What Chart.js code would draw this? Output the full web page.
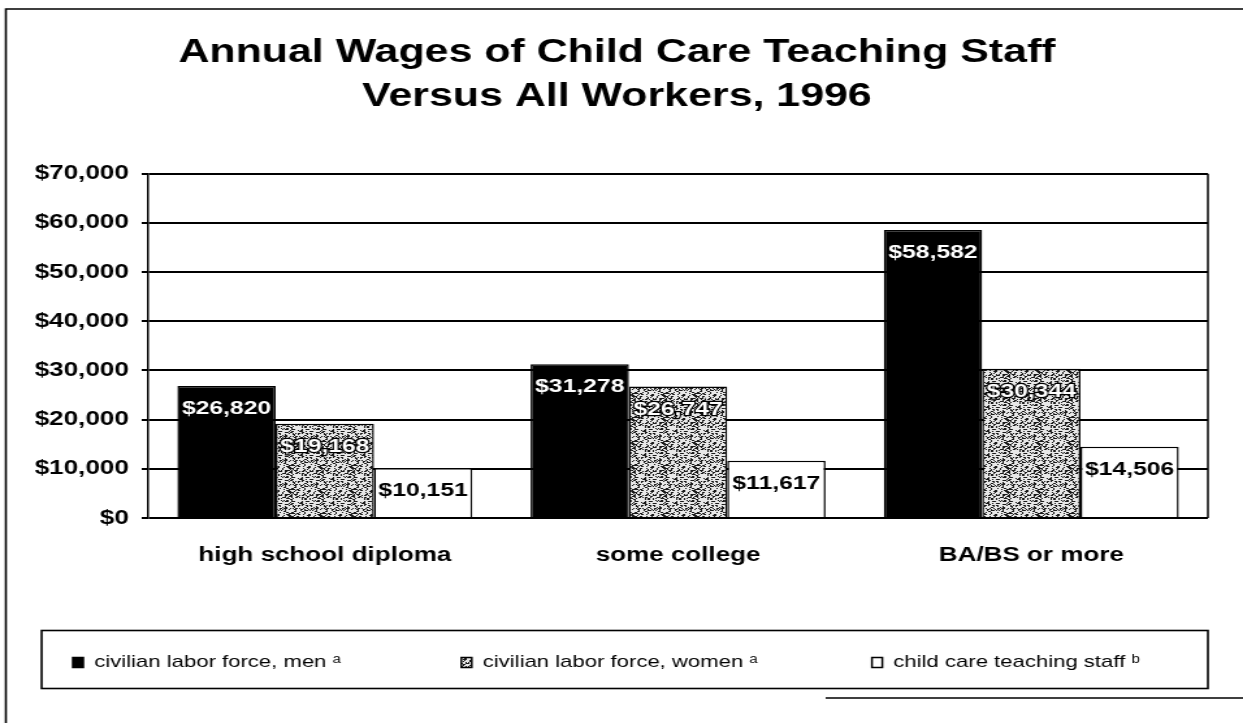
<!DOCTYPE html>
<html>
<head>
<meta charset="utf-8">
<script src="https://cdn.jsdelivr.net/npm/chart.js@4/dist/chart.umd.min.js"></script>
<style>
  html, body { margin: 0; padding: 0; background: #fff; overflow: hidden; }
  /* the scanned original is wider than it is tall, so the canvas is stretched sideways */
  #wrap { width: 956px; height: 723px; transform: scaleX(1.3002); transform-origin: 0 0; }
</style>
</head>
<body>
<div id="wrap"><canvas id="chart" width="956" height="723"></canvas></div>
<script>
const FONT = '"Liberation Sans", Arial, sans-serif';

const titleLines = ['Annual Wages of Child Care Teaching Staff', 'Versus All Workers, 1996'];
const categories = ['high school diploma', 'some college', 'BA/BS or more'];
const seriesNames = ['civilian labor force, men \u1D43', 'civilian labor force, women \u1D43', 'child care teaching staff \u1D47'];
const menWages = [26820, 31278, 58582];
const womenWages = [19168, 26747, 30344];
const staffWages = [10151, 11617, 14506];
const yTicks = [0, 10000, 20000, 30000, 40000, 50000, 60000, 70000];

// extra blank room after each legend entry, the original spaces them unevenly
const legendGap = [12, 11, 0];

const money = v => '$' + v.toLocaleString('en-US');

// speckled grey fill like the scanned texture of the women's bars (fixed hash, no data)
function speckle() {
  const n = 24;
  const c = document.createElement('canvas');
  c.width = n; c.height = n;
  const g = c.getContext('2d');
  g.fillStyle = '#1a1a1a';
  g.fillRect(0, 0, n, n);
  g.fillStyle = '#e8e8e8';
  for (let y = 0; y < n; y++) {
    for (let x = 0; x < n; x++) {
      let h = (x * 374761393 + y * 668265263) >>> 0;
      h = Math.imul(h ^ (h >>> 13), 1274126177) >>> 0;
      if ((h ^ (h >>> 16)) % 100 < 34) g.fillRect(x, y, 1, 1);
    }
  }
  return g.createPattern(c, 'repeat');
}

const labelColors = ['#fff', '#fff', '#000'];

// value labels just inside the top of every bar
const barLabels = {
  id: 'barLabels',
  afterDatasetsDraw(chart) {
    const ctx = chart.ctx;
    ctx.save();
    ctx.font = 'bold 19px ' + FONT;
    ctx.textAlign = 'center';
    ctx.textBaseline = 'middle';
    chart.data.datasets.forEach((ds, i) => {
      chart.getDatasetMeta(i).data.forEach((bar, j) => {
        const text = money(ds.data[j]);
        const y = bar.y + 23;
        if (i === 1) {
          ctx.strokeStyle = '#000';
          ctx.lineWidth = 2.5;
          ctx.strokeText(text, bar.x, y);
        }
        ctx.fillStyle = labelColors[i];
        ctx.fillText(text, bar.x, y);
      });
    });
    ctx.restore();
  }
};

// plot-area right edge, legend box and the page frame
const frame = {
  id: 'frame',
  afterDraw(chart) {
    const ctx = chart.ctx;
    const a = chart.chartArea;
    const hb = chart.legend.legendHitBoxes[0];
    const mid = hb.top + hb.height / 2;
    ctx.save();
    ctx.strokeStyle = '#000';
    ctx.lineWidth = 1.5;
    ctx.beginPath();
    ctx.moveTo(a.right, a.top);
    ctx.lineTo(a.right, a.bottom);
    ctx.stroke();
    ctx.lineWidth = 1.6;
    ctx.strokeRect(a.left - 82, mid - 32, a.right - a.left + 82, 58);
    ctx.beginPath();
    ctx.moveTo(4.5, 723);
    ctx.lineTo(4.5, 9);
    ctx.lineTo(956, 9);
    ctx.moveTo(635, 698);
    ctx.lineTo(956, 698);
    ctx.stroke();
    ctx.restore();
  }
};

new Chart(document.getElementById('chart'), {
  type: 'bar',
  data: {
    labels: categories,
    datasets: [
      { label: seriesNames[0], data: menWages, backgroundColor: '#000', borderColor: '#000', borderWidth: 1.5 },
      { label: seriesNames[1], data: womenWages, backgroundColor: speckle(), borderColor: '#000', borderWidth: 1.5 },
      { label: seriesNames[2], data: staffWages, backgroundColor: '#fff', borderColor: '#000', borderWidth: 1.5 }
    ]
  },
  options: {
    responsive: false,
    animation: false,
    devicePixelRatio: 1,
    layout: { padding: { top: 0, left: 20, right: 27, bottom: 42 } },
    datasets: { bar: { barPercentage: 1, categoryPercentage: 0.835 } },
    plugins: {
      title: {
        display: true,
        text: titleLines,
        color: '#000',
        font: { family: FONT, size: 33, weight: 'bold', lineHeight: 1.36 },
        padding: { top: 30, bottom: 54 }
      },
      legend: {
        position: 'bottom',
        align: 'start',
        labels: {
          color: '#000',
          font: { family: FONT, size: 17 },
          boxWidth: 8,
          boxHeight: 10,
          padding: 36,
          generateLabels(chart) {
            const items = Chart.defaults.plugins.legend.labels.generateLabels(chart);
            items.forEach((it, i) => { it.text += ' '.repeat(legendGap[i]); });
            return items;
          }
        }
      },
      tooltip: { enabled: false }
    },
    scales: {
      x: {
        grid: { display: false, drawTicks: false },
        border: { display: false },
        ticks: { color: '#000', padding: 25, font: { family: FONT, size: 20, weight: 'bold' } },
        afterFit(scale) { scale.height = 100; }
      },
      y: {
        min: 0,
        max: 70000,
        afterBuildTicks(scale) { scale.ticks = yTicks.map(v => ({ value: v })); },
        grid: { color: '#000', lineWidth: 2, tickLength: 5, drawTicks: true },
        border: { display: true, color: '#000', width: 1.5 },
        ticks: {
          color: '#000',
          padding: 10,
          font: { family: FONT, size: 20, weight: 'bold' },
          callback: v => money(v)
        },
        afterFit(scale) { scale.width = 94; }
      }
    }
  },
  plugins: [barLabels, frame]
});
</script>
</body>
</html>
